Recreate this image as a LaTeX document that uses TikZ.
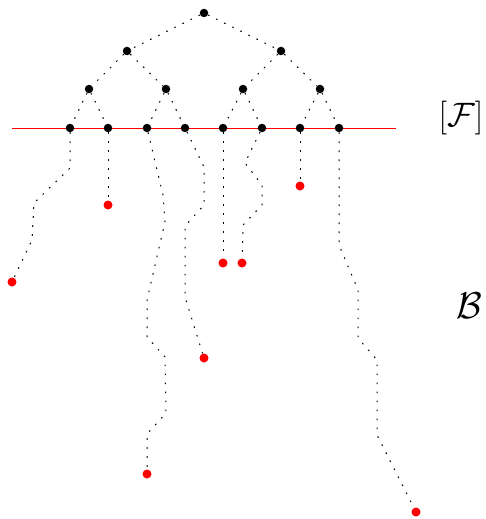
\documentclass[tikz,border=0pt]{standalone}
\usepackage{amsmath}
\begin{document}
\begin{tikzpicture}[x=1pt,y=-1pt,
  bdot/.style={circle,fill=black,inner sep=0pt,minimum size=8.5pt},
  rdot/.style={circle,fill=red,inner sep=0pt,minimum size=9pt},
  edge/.style={line width=1pt,dash pattern=on 1.6pt off 7.4pt},
  path/.style={line width=1pt,dash pattern=on 1.6pt off 7.4pt}]
\useasboundingbox (0,0) rectangle (486,519);
% red line
\coordinate (rl) at (12,128);
\coordinate (rr) at (396,128);
\draw[red,line width=0.9pt] (rl) -- (rr);
% tree
\node[bdot] (r) at (204,13) {};
\node[bdot] (a1) at (127,51) {};
\node[bdot] (a2) at (281,51) {};
\node[bdot] (b1) at (89,89) {};
\node[bdot] (b2) at (166,89) {};
\node[bdot] (b3) at (243,89) {};
\node[bdot] (b4) at (320,89) {};
\node[bdot] (c1) at (70,128) {};
\node[bdot] (c2) at (108,128) {};
\node[bdot] (c3) at (147,128) {};
\node[bdot] (c4) at (185,128) {};
\node[bdot] (c5) at (223,128) {};
\node[bdot] (c6) at (262,128) {};
\node[bdot] (c7) at (300,128) {};
\node[bdot] (c8) at (339,128) {};
\draw[edge] (r) -- (a1);
\draw[edge] (r) -- (a2);
\draw[edge] (a1) -- (b1);
\draw[edge] (a1) -- (b2);
\draw[edge] (a2) -- (b3);
\draw[edge] (a2) -- (b4);
\draw[edge] (b1) -- (c1);
\draw[edge] (b1) -- (c2);
\draw[edge] (b2) -- (c3);
\draw[edge] (b2) -- (c4);
\draw[edge] (b3) -- (c5);
\draw[edge] (b3) -- (c6);
\draw[edge] (b4) -- (c7);
\draw[edge] (b4) -- (c8);
% end points
\node[rdot] (e1) at (12,282) {};
\node[rdot] (e2) at (108,205) {};
\node[rdot] (e3) at (147,474) {};
\node[rdot] (e4) at (204,358) {};
\node[rdot] (e5) at (223,263) {};
\node[rdot] (e6) at (242,263) {};
\node[rdot] (e7) at (300,186) {};
\node[rdot] (e8) at (416,512) {};
% paths
\draw[path] (c1) -- (70,168) -- (34,203) -- (32,240) -- (e1);
\draw[path] (c2) -- (e2);
\draw[path] (c3) -- (163,195) -- (165,222) -- (147,300) -- (147,337) -- (165,357) -- (166,413) -- (147,434) -- (e3);
\draw[path] (c4) -- (204,167) -- (204,205) -- (185,226) -- (185,297) -- (e4);
\draw[path] (c5) -- (e5);
\draw[path] (c6) -- (245,163) -- (262,185) -- (262,205) -- (243,225) -- (e6);
\draw[path] (c7) -- (e7);
\draw[path] (c8) -- (339,245) -- (358,290) -- (358,338) -- (377,360) -- (377,435) -- (e8);
% labels
\node[font=\Huge,scale=1.36,inner sep=0pt] (lf) at (461,118) {$[\mathcal{F}]$};
\node[font=\Huge,scale=1.5,inner sep=0pt] (lb) at (469,306) {$\mathcal{B}$};
\end{tikzpicture}
\end{document}
